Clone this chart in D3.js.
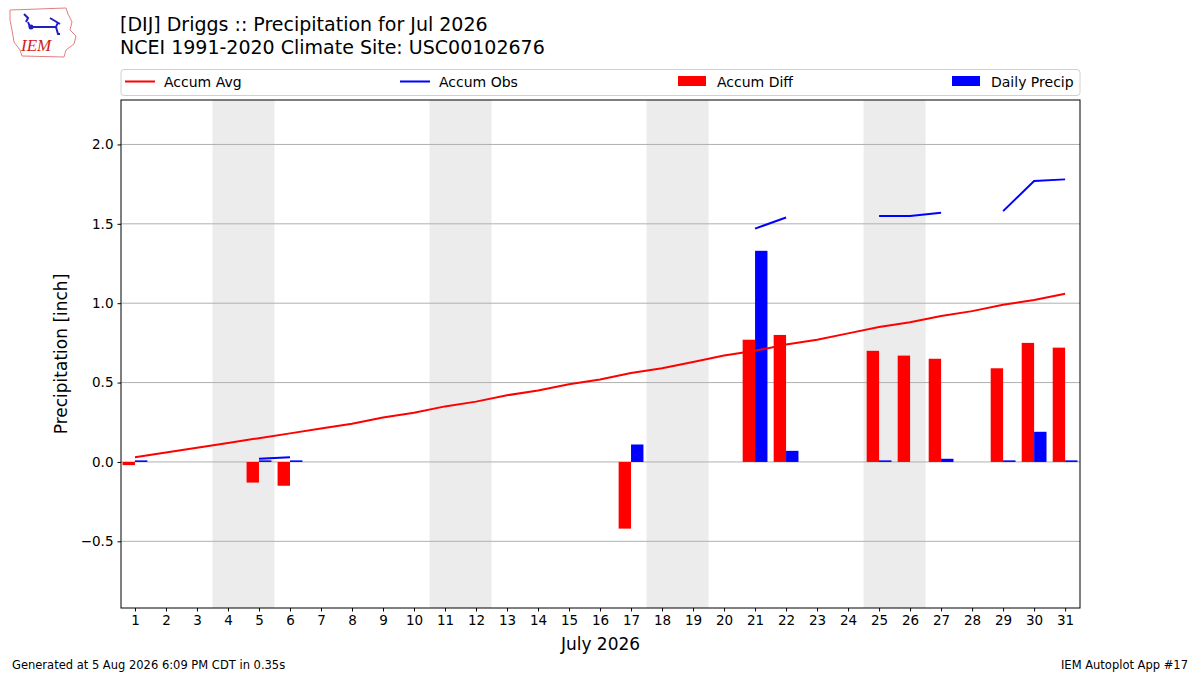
<!DOCTYPE html>
<html><head><meta charset="utf-8">
<script src="https://cdn.jsdelivr.net/npm/d3@7"></script>
<style>body{margin:0;background:#fff;}svg{display:block;font-family:"DejaVu Sans",sans-serif;}</style>
</head><body><svg id="c" width="1200" height="675"></svg>
<script>
const days = d3.range(1, 32);
const accumAvg = [0.03,0.06,0.09,0.12,0.15,0.18,0.21,0.24,0.28,0.31,0.35,0.38,0.42,0.45,0.49,0.52,0.56,0.59,0.63,0.67,0.70,0.74,0.77,0.81,0.85,0.88,0.92,0.95,0.99,1.02,1.06];
const accumObs = [null,null,null,null,0.02,0.03,null,null,null,null,null,null,null,null,null,null,null,null,null,null,1.47,1.54,null,null,1.55,1.55,1.57,null,1.58,1.77,1.78];
const accumDiff = [-0.02,null,null,null,-0.13,-0.15,null,null,null,null,null,null,null,null,null,null,-0.42,null,null,null,0.77,0.80,null,null,0.70,0.67,0.65,null,0.59,0.75,0.72];
const dailyPrecip = [0.01,null,null,null,0.01,0.01,null,null,null,null,null,null,null,null,null,null,0.11,null,null,null,1.33,0.07,null,null,0.01,0,0.02,null,0.01,0.19,0.01];
const weekendStarts = [4, 11, 18, 25];
const yTicks = [-0.5, 0.0, 0.5, 1.0, 1.5, 2.0];
const titleLines = ["[DIJ] Driggs :: Precipitation for Jul 2026", "NCEI 1991-2020 Climate Site: USC00102676"];
const legendItems = [["Accum Avg","line","red"],["Accum Obs","line","blue"],["Accum Diff","rect","red"],["Daily Precip","rect","blue"]];

const svg = d3.select("#c");
const L = 121, R = 1080, T = 100, B = 608;
const x = d3.scaleLinear().domain([0.55, 31.48]).range([L, R]);
const y = d3.scaleLinear().domain([-0.92, 2.28]).range([B, T]);

// weekend shading
svg.append("g").selectAll("rect").data(weekendStarts).join("rect")
  .attr("x", d => x(d - 0.5)).attr("width", d => x(d + 1.5) - x(d - 0.5))
  .attr("y", T).attr("height", B - T).attr("fill", "#ececec");

// grid
svg.append("g").selectAll("line").data(yTicks).join("line")
  .attr("x1", L).attr("x2", R).attr("y1", d => y(d)).attr("y2", d => y(d))
  .attr("stroke", "#b0b0b0").attr("stroke-width", 1);

// bars
const bw = 0.4;
svg.append("g").selectAll("rect").data(days.filter((d,i)=>accumDiff[i]!==null)).join("rect")
  .attr("x", d => x(d - bw)).attr("width", d => x(d) - x(d - bw))
  .attr("y", d => y(Math.max(0, accumDiff[d-1]))).attr("height", d => Math.abs(y(accumDiff[d-1]) - y(0)))
  .attr("fill", "red");
svg.append("g").selectAll("rect").data(days.filter((d,i)=>dailyPrecip[i]!==null && dailyPrecip[i]>0)).join("rect")
  .attr("x", d => x(d)).attr("width", d => x(d + bw) - x(d))
  .attr("y", d => y(Math.max(0, dailyPrecip[d-1]))).attr("height", d => Math.abs(y(dailyPrecip[d-1]) - y(0)))
  .attr("fill", "blue");

// lines
const lineAvg = d3.line().x((d,i)=>x(days[i])).y(d=>y(d));
svg.append("path").attr("d", lineAvg(accumAvg)).attr("fill","none").attr("stroke","red").attr("stroke-width",2);
const lineObs = d3.line().defined(d=>d!==null).x((d,i)=>x(days[i])).y(d=>y(d));
svg.append("path").attr("d", lineObs(accumObs)).attr("fill","none").attr("stroke","blue").attr("stroke-width",2);

// frame
svg.append("rect").attr("x",L).attr("y",T).attr("width",R-L).attr("height",B-T)
  .attr("fill","none").attr("stroke","#000").attr("stroke-width",1);

// axes
const xAxis = svg.append("g").attr("transform",`translate(0,${B})`)
  .call(d3.axisBottom(x).tickValues(days).tickFormat(d3.format("d")).tickSizeOuter(0).tickSize(3.5).tickPadding(4));
xAxis.select(".domain").remove();
xAxis.selectAll("text").attr("font-size",13.5).attr("font-family","DejaVu Sans").attr("fill","#000");
const yAxis = svg.append("g").attr("transform",`translate(${L},0)`)
  .call(d3.axisLeft(y).tickValues(yTicks).tickFormat(d3.format(".1f")).tickSizeOuter(0).tickSize(3.5).tickPadding(4));
yAxis.select(".domain").remove();
yAxis.selectAll("text").attr("font-size",13.5).attr("font-family","DejaVu Sans").attr("fill","#000");

svg.append("text").attr("x",(L+R)/2).attr("y",650).attr("text-anchor","middle").attr("font-size",17).text("July 2026");
svg.append("text").attr("transform",`translate(67,${(T+B)/2}) rotate(-90)`).attr("text-anchor","middle").attr("font-size",17).text("Precipitation [inch]");

// titles
svg.append("g").selectAll("text").data(titleLines).join("text")
  .attr("x",120).attr("y",(d,i)=>31+i*23).attr("font-size",19).text(d=>d);

// legend
const lg = svg.append("g");
lg.append("rect").attr("x",121).attr("y",69.5).attr("width",959).attr("height",26).attr("rx",3)
  .attr("fill","#fff").attr("stroke","#d0d0d0");
const lx = [125, 400, 678, 952];
legendItems.forEach((it,i)=>{
  if(it[1]==="line") lg.append("line").attr("x1",lx[i]).attr("x2",lx[i]+30).attr("y1",81.5).attr("y2",81.5).attr("stroke",it[2]).attr("stroke-width",2);
  else lg.append("rect").attr("x",lx[i]).attr("y",76).attr("width",28).attr("height",10).attr("fill",it[2]);
  lg.append("text").attr("x",lx[i]+39).attr("y",86.5).attr("font-size",14).text(it[0]);
});

// footer
svg.append("text").attr("x",12).attr("y",669).attr("font-size",11.5).text("Generated at 5 Aug 2026 6:09 PM CDT in 0.35s");
svg.append("text").attr("x",1188).attr("y",669).attr("text-anchor","end").attr("font-size",11.5).text("IEM Autoplot App #17");

// logo
const lgo = svg.append("g");
lgo.append("path").attr("d","M10,10 L66,8 L68,14 L72,22 L70,30 L76,36 L74,44 L66,50 L64,57 L22,56 L20,50 L14,42 L12,30 L10,20 Z")
  .attr("fill","#fff").attr("stroke","#e08080").attr("stroke-width",1);
lgo.append("path").attr("d","M24,14 L28,18 L26,22 M28,22 L30,27 L56,27 L58,22 M50,18 L60,24 M56,27 L58,34 L60,34")
  .attr("fill","none").attr("stroke","#2020c0").attr("stroke-width",2);
lgo.append("circle").attr("cx",31).attr("cy",27).attr("r",2.5).attr("fill","#2020c0");
lgo.append("text").attr("x",21).attr("y",51).attr("font-size",17).attr("font-style","italic")
  .attr("font-family","Liberation Serif").attr("fill","#d02020").text("IEM");
</script></body></html>
